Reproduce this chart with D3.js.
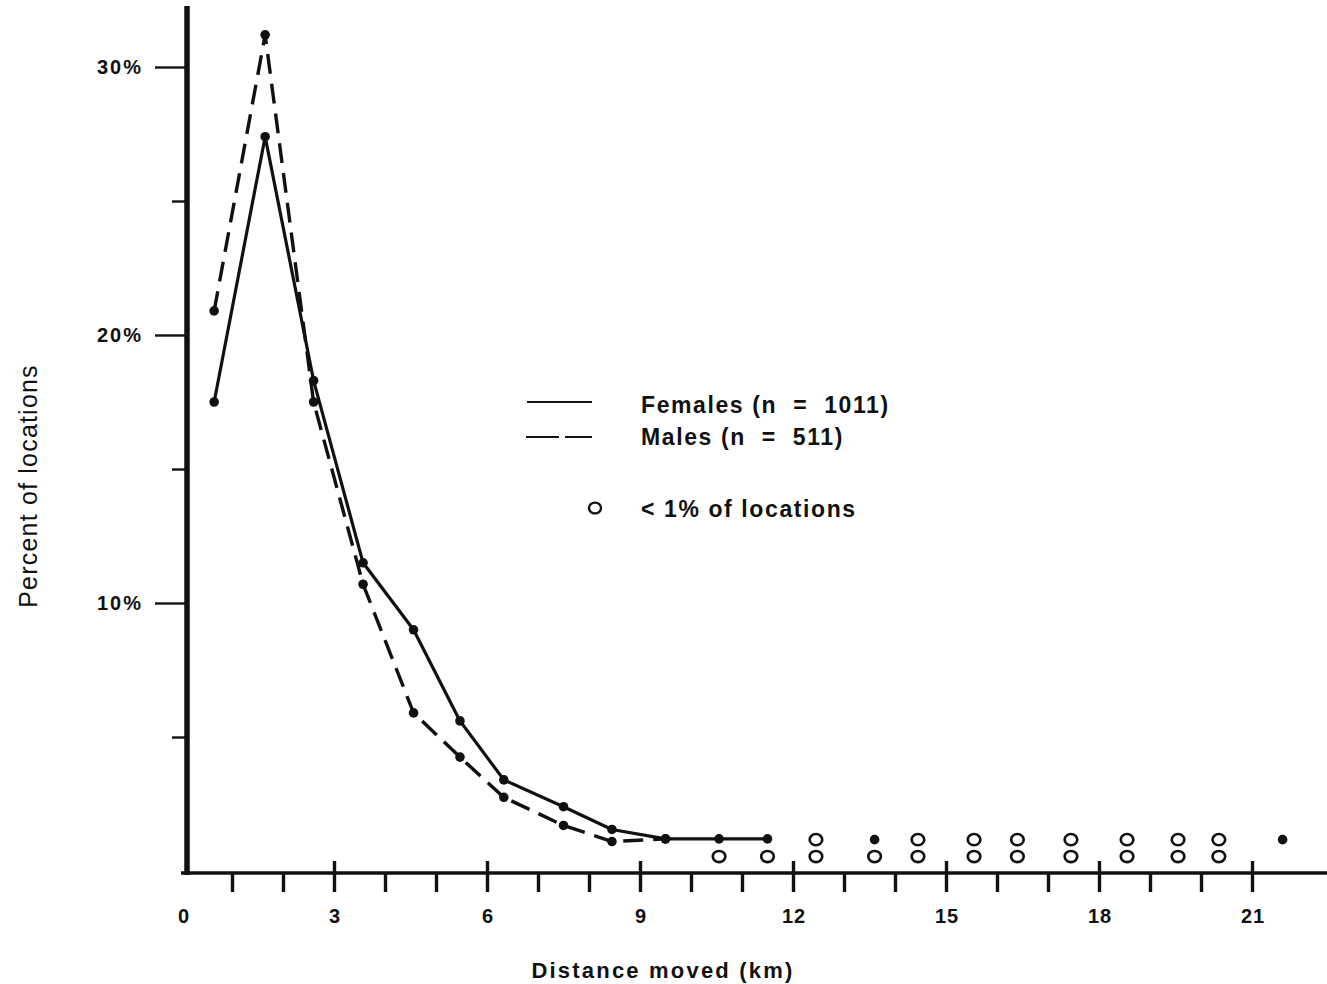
<!DOCTYPE html>
<html>
<head>
<meta charset="utf-8">
<script src="https://cdn.jsdelivr.net/npm/d3@7"></script>
<style>
  html, body { margin: 0; padding: 0; background: #fff; }
  svg { display: block; }
  text { font-family: "Liberation Sans", Arial, Helvetica, sans-serif; fill: #111; }
</style>
</head>
<body>
<svg id="chart" width="1327" height="984"></svg>
<script>
'use strict';

// distance class midpoints (km), as plotted
var distances = [0.65, 1.65, 2.6, 3.57, 4.56, 5.47, 6.33, 7.5, 8.45, 9.5, 10.55, 11.5];
var females = [17.5, 27.4, 18.3, 11.5, 9.0, 5.6, 3.4, 2.4, 1.55, 1.2, 1.2, 1.2];
var males = [20.9, 31.2, 17.5, 10.7, 5.9, 4.25, 2.75, 1.7, 1.1, 1.2];

// isolated classes, drawn in two rows just above the axis
var femaleSolo = [13.6, 21.6];
var femaleRare = [12.45, 14.45, 15.55, 16.4, 17.45, 18.55, 19.55, 20.35];
var maleRare = [10.55, 11.5, 12.45, 13.6, 14.45, 15.55, 16.4, 17.45, 18.55, 19.55, 20.35];
var rowFemale = 1.17;
var rowMale = 0.54;

var xTicks = d3.range(1, 22);
var xLabels = [0, 3, 6, 9, 12, 15, 18, 21];
var yTicks = [5, 10, 15, 20, 25, 30];
var yLabels = [10, 20, 30];

var svg = d3.select('#chart');

var x = d3.scaleLinear().domain([0, 21]).range([181, 1252]);
var y = d3.scaleLinear().domain([0, 30]).range([871, 67]);

// x axis ticks
var xAxis = svg.append('g')
  .attr('transform', 'translate(0,873)')
  .call(d3.axisBottom(x).tickValues(xTicks).tickSize(19).tickFormat(''));
xAxis.select('.domain').remove();
xAxis.selectAll('.tick line')
  .attr('stroke', '#111')
  .attr('stroke-width', 3.4)
  .attr('y1', function (d) { return d % 3 === 0 ? -12 : 0; });

svg.append('g').selectAll('text')
  .data(xLabels)
  .enter().append('text')
  .attr('x', function (d) { return x(d) + (d === 0 ? 3 : 1); })
  .attr('y', 923)
  .attr('text-anchor', 'middle')
  .attr('font-size', '20px')
  .attr('font-weight', 'bold')
  .attr('letter-spacing', '1px')
  .text(function (d) { return d; });

// y axis ticks
var yAxis = svg.append('g')
  .attr('transform', 'translate(187,0)')
  .call(d3.axisLeft(y).tickValues(yTicks).tickSize(32).tickFormat(''));
yAxis.select('.domain').remove();
yAxis.selectAll('.tick line')
  .attr('stroke', '#111')
  .attr('stroke-width', 2.4)
  .attr('x2', function (d) { return d % 10 === 0 ? -32 : -15; });

svg.append('g').selectAll('text')
  .data(yLabels)
  .enter().append('text')
  .attr('x', 143)
  .attr('y', function (d) { return y(d) + 7; })
  .attr('text-anchor', 'end')
  .attr('font-size', '20px')
  .attr('font-weight', 'bold')
  .attr('letter-spacing', '2px')
  .text(function (d) { return d + '%'; });

// axis lines
svg.append('line')
  .attr('x1', 187).attr('x2', 187)
  .attr('y1', 6).attr('y2', 875)
  .attr('stroke', '#111')
  .attr('stroke-width', 5.5);
svg.append('line')
  .attr('x1', 181).attr('x2', 1327)
  .attr('y1', 873).attr('y2', 873)
  .attr('stroke', '#111')
  .attr('stroke-width', 3.6);

// series
var femalePts = distances.map(function (d, i) { return [d, females[i]]; });
var malePts = males.map(function (v, i) { return [distances[i], v]; });

var line = d3.line()
  .x(function (d) { return x(d[0]); })
  .y(function (d) { return y(d[1]); });

svg.append('path')
  .datum(femalePts)
  .attr('d', line)
  .attr('fill', 'none')
  .attr('stroke', '#111')
  .attr('stroke-width', 3.2)
  .attr('stroke-linejoin', 'round');

svg.append('path')
  .datum(malePts)
  .attr('d', line)
  .attr('fill', 'none')
  .attr('stroke', '#111')
  .attr('stroke-width', 3.4)
  .attr('stroke-dasharray', '20,10');

var dots = femalePts.concat(malePts).concat(femaleSolo.map(function (d) { return [d, rowFemale]; }));
svg.append('g').selectAll('circle')
  .data(dots)
  .enter().append('circle')
  .attr('cx', function (d) { return x(d[0]); })
  .attr('cy', function (d) { return y(d[1]); })
  .attr('r', 4.8)
  .attr('fill', '#111');

// < 1% markers
var rare = femaleRare.map(function (d) { return [d, rowFemale]; })
  .concat(maleRare.map(function (d) { return [d, rowMale]; }));
svg.append('g').selectAll('ellipse')
  .data(rare)
  .enter().append('ellipse')
  .attr('cx', function (d) { return x(d[0]); })
  .attr('cy', function (d) { return y(d[1]); })
  .attr('rx', 6.3)
  .attr('ry', 5.6)
  .attr('fill', 'none')
  .attr('stroke', '#111')
  .attr('stroke-width', 2.6);

// legend
var legend = svg.append('g');
legend.append('line')
  .attr('x1', 527).attr('x2', 592).attr('y1', 402).attr('y2', 402)
  .attr('stroke', '#111').attr('stroke-width', 2.2);
legend.append('line')
  .attr('x1', 526).attr('x2', 592).attr('y1', 437).attr('y2', 437)
  .attr('stroke', '#111').attr('stroke-width', 2.2)
  .attr('stroke-dasharray', '33,6');
legend.append('ellipse')
  .attr('cx', 595).attr('cy', 508).attr('rx', 6).attr('ry', 5.4)
  .attr('fill', 'none').attr('stroke', '#111').attr('stroke-width', 2.4);

var legendText = [
  { label: 'Females (n  =  1011)', y: 413 },
  { label: 'Males (n  =  511)', y: 445 },
  { label: '< 1% of locations', y: 517 }
];
legend.selectAll('text')
  .data(legendText)
  .enter().append('text')
  .attr('x', 641)
  .attr('y', function (d) { return d.y; })
  .attr('font-size', '23px')
  .attr('font-weight', 'bold')
  .attr('letter-spacing', '1.6px')
  .style('white-space', 'pre')
  .text(function (d) { return d.label; });

// axis titles
svg.append('text')
  .attr('transform', 'translate(37,486) rotate(-90)')
  .attr('text-anchor', 'middle')
  .attr('font-size', '25px')
  .attr('letter-spacing', '1.2px')
  .text('Percent of locations');

svg.append('text')
  .attr('x', 663)
  .attr('y', 978)
  .attr('text-anchor', 'middle')
  .attr('font-size', '22px')
  .attr('font-weight', 'bold')
  .attr('letter-spacing', '2.2px')
  .text('Distance moved (km)');
</script>
</body>
</html>
